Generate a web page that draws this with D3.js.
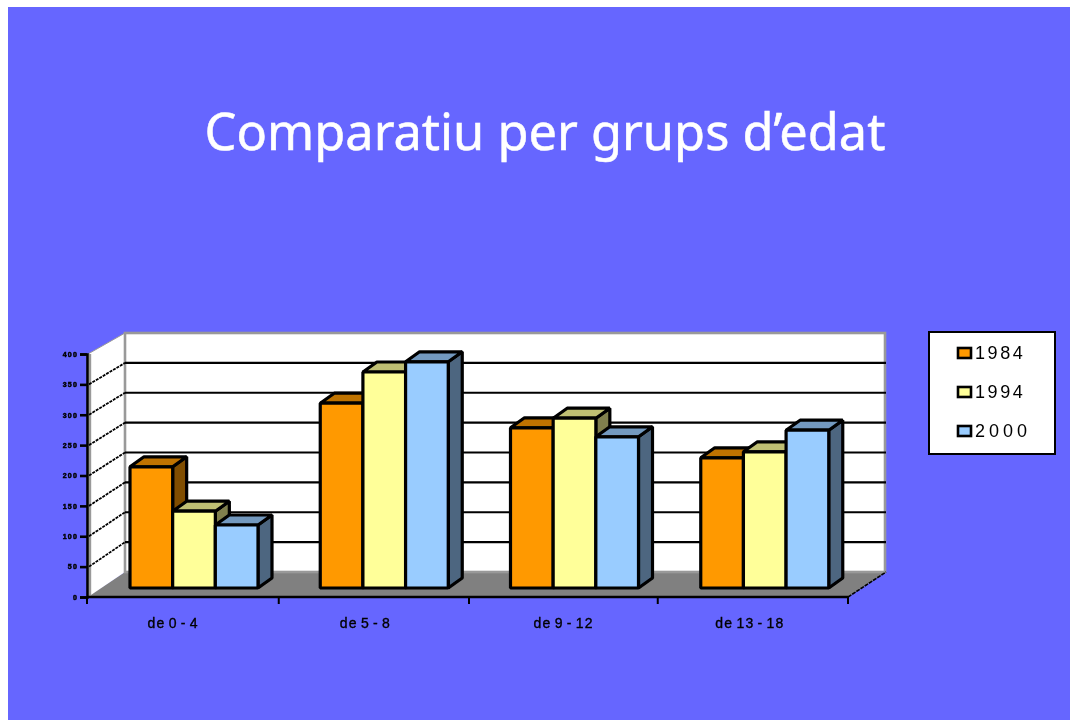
<!DOCTYPE html>
<html><head><meta charset="utf-8">
<script src="https://cdn.jsdelivr.net/npm/d3@7/dist/d3.min.js"></script>
<style>html,body{margin:0;padding:0;background:#fff}svg{display:block}</style>
</head><body><svg id="c" width="1070" height="720"></svg>
<script>
const titleText = "Comparatiu per grups d’edat";
const categories = ["de 0 - 4","de 5 - 8","de 9 - 12","de 13 - 18"];
const seriesNames = ["1984","1994","2000"];
const values1984 = [202,308,267,217];
const values1994 = [128,360,283,227];
const values2000 = [105,377,252,263];
const yTicks = [0,50,100,150,200,250,300,350,400];
const faceColors = ["#ff9900","#ffff99","#99ccff"];
const topColors = ["#bf7300","#bfbf73","#7399bf"];
const sideColors = ["#804d00","#80804d","#4d6680"];
const labelNudge = [-9,-7,1,-3];
const seriesValues = [values1984,values1994,values2000];

const svg = d3.select("#c");
svg.append("defs").append("filter").attr("id","soft").attr("x","-5%").attr("y","-5%").attr("width","110%").attr("height","110%")
  .append("feGaussianBlur").attr("stdDeviation",0.7);
svg.append("rect").attr("x",8).attr("y",7).attr("width",1062).attr("height",713).attr("fill","#6666ff");
const g = svg.append("g").attr("filter","url(#soft)");

g.append("text").attr("x",545).attr("y",150).attr("text-anchor","middle")
  .attr("font-family","'Noto Sans'").attr("font-size",50.5).attr("fill","#fff")
  .attr("stroke","#fff").attr("stroke-width",0.5).text(titleText);

const yFront = d3.scaleLinear().domain([0,400]).range([597,354]);
const yBack = d3.scaleLinear().domain([0,400]).range([572,333]);
const yBar = d3.scaleLinear().domain([0,400]).range([588,348]);
const xFront = d3.scaleBand().domain(categories).range([87,848]);
const xSeries = d3.scaleBand().domain(seriesNames).range([43,171]);
const backDx = 38;
const line = d3.line();

// floor and walls
g.append("path").attr("d",line([[87,yFront(0)],[87+backDx,yBack(0)],[848+backDx,yBack(0)],[848,yFront(0)]])+"Z").attr("fill","#808080");
g.append("path").attr("d",line([[88,yFront(400)],[87+backDx,yBack(400)],[87+backDx,yBack(0)],[88,yFront(0)]])+"Z").attr("fill","#fff");
g.append("rect").attr("x",87+backDx).attr("y",yBack(400)).attr("width",760).attr("height",yBack(0)-yBack(400)).attr("fill","#fff").attr("stroke","#999").attr("stroke-width",2.6);
g.append("line").attr("x1",90).attr("x2",90).attr("y1",yFront(400)).attr("y2",yFront(0)).attr("stroke","#999").attr("stroke-width",2.4);
g.append("line").attr("x1",88).attr("x2",87+backDx).attr("y1",yFront(400)).attr("y2",yBack(400)).attr("stroke","#999").attr("stroke-width",1);

// gridlines
yTicks.slice(1,-1).forEach(t=>{
  g.append("line").attr("x1",87+backDx).attr("x2",848+backDx).attr("y1",yBack(t)).attr("y2",yBack(t)).attr("stroke","#000").attr("stroke-width",2.2);
  g.append("line").attr("x1",89).attr("x2",87+backDx).attr("y1",yFront(t)).attr("y2",yBack(t)).attr("stroke","#000").attr("stroke-width",1.8).attr("stroke-dasharray","3 1");
});
g.append("line").attr("x1",848).attr("x2",886).attr("y1",597).attr("y2",572).attr("stroke","#000").attr("stroke-width",1.6).attr("stroke-dasharray","4 1");

// bars
const dx = 14, dy = 10;
categories.forEach((c,ci)=>{
  seriesNames.forEach((s,si)=>{
    const x0 = xFront(c)+xSeries(s), w = xSeries.bandwidth(), y0 = yBar(seriesValues[si][ci]), y1 = yBar(0);
    const b = g.append("g").attr("stroke","#000").attr("stroke-width",3.2).attr("stroke-linejoin","bevel");
    b.append("path").attr("d",line([[x0+w,y0],[x0+w+dx,y0-dy],[x0+w+dx,y1-dy],[x0+w,y1]])+"Z").attr("fill",sideColors[si]);
    b.append("path").attr("d",line([[x0,y0],[x0+dx,y0-dy],[x0+w+dx,y0-dy],[x0+w,y0]])+"Z").attr("fill",topColors[si]);
    b.append("rect").attr("x",x0).attr("y",y0).attr("width",w).attr("height",y1-y0).attr("fill",faceColors[si]);
  });
});

// axes
const yAxis = g.append("g").attr("transform","translate(87,0)").call(d3.axisLeft(yFront).tickValues(yTicks).tickSize(7).tickPadding(2));
yAxis.selectAll("path,line").attr("stroke","#000").attr("stroke-width",2.6);
yAxis.selectAll("text").attr("font-family","'Liberation Sans'").attr("font-weight","bold").attr("font-size",7).attr("letter-spacing",1.2).attr("fill","#000").attr("stroke","#000").attr("stroke-width",0.5);
const xAxis = g.append("g").attr("transform","translate(0,597)").call(d3.axisBottom(xFront).tickValues([]).tickSize(0));
xAxis.selectAll("path").attr("stroke","#000").attr("stroke-width",2.6).attr("d","M87,0H848");
categories.concat([null]).forEach((c,i)=>{
  const x = c===null ? xFront.range()[1] : xFront(c);
  const shift = (i===1||i===2) ? 1.5 : 0;
  xAxis.append("line").attr("x1",x+shift).attr("x2",x+shift).attr("y1",0).attr("y2",7).attr("stroke","#000").attr("stroke-width",2);
});
categories.forEach((c,i)=>{
  g.append("text").attr("x",xFront(c)+xFront.bandwidth()/2+labelNudge[i]).attr("y",628).attr("text-anchor","middle")
   .attr("font-family","'Liberation Sans'").attr("font-size",14).attr("letter-spacing",1.2).attr("word-spacing",-2).attr("fill","#000").attr("stroke","#000").attr("stroke-width",0.35).text(c);
});

// legend
g.append("rect").attr("x",929).attr("y",332).attr("width",126).attr("height",122).attr("fill","#fff").attr("stroke","#000").attr("stroke-width",2);
const ly = d3.scalePoint().domain(seriesNames).range([353,431]);
seriesNames.forEach((s,i)=>{
  g.append("rect").attr("x",958).attr("y",ly(s)-5).attr("width",13).attr("height",10).attr("fill",faceColors[i]).attr("stroke","#000").attr("stroke-width",2.6);
  g.append("text").attr("x",975).attr("y",ly(s)+6).attr("font-family","'Liberation Sans'").attr("font-size",18).attr("letter-spacing",i===2?4:2.6).attr("fill","#000").text(s);
});
</script></body></html>
